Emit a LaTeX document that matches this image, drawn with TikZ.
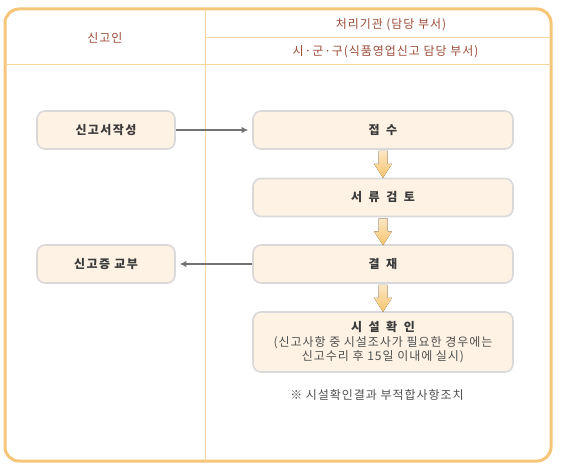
\documentclass[tikz,border=0pt]{standalone}
\usepackage{fontspec}
\setmainfont{Noto Sans CJK KR}
\usetikzlibrary{calc,arrows.meta}
\definecolor{frameor}{HTML}{F6C578}
\definecolor{lineor}{HTML}{F9D69C}
\definecolor{headtxt}{HTML}{9C4A38}
\definecolor{boxfill}{HTML}{FDF2E3}
\definecolor{boxline}{HTML}{D9D9D9}
\definecolor{darktxt}{HTML}{3A3A3A}
\definecolor{graytxt}{HTML}{505050}
\definecolor{grayarrow}{HTML}{737373}
\definecolor{arrowor}{HTML}{F6C46C}
\definecolor{arrowlt}{HTML}{FCE8C6}
\newcommand\regtext{\fontsize{12}{14}\selectfont\addfontfeature{LetterSpace=8}}
\newcommand\boldtext{\fontsize{12}{14}\selectfont\bfseries\addfontfeature{LetterSpace=12}}
\newcommand\wgap{\hspace{6.5pt}}
\tikzset{
  stepbox/.style={draw=boxline, line width=1.6pt, fill=boxfill, rounded corners=8pt,
    minimum height=38pt, inner sep=0pt, font=\boldtext, text=darktxt},
  leftbox/.style={stepbox, minimum width=138pt},
  rightbox/.style={stepbox, minimum width=260pt},
  headtext/.style={font=\regtext, text=headtxt, inner sep=0pt},
  grayarr/.style={draw=grayarrow, line width=1.5pt, -{Latex[length=6.5pt,width=6.5pt]}, shorten >=4pt},
  bigarr/.style={top color=arrowlt, bottom color=arrowor, draw=none},
}
\begin{document}
\begin{tikzpicture}[x=1pt,y=-1pt]
\useasboundingbox (0,0) rectangle (562,470);
% frame
\draw[frameor, line width=3pt, rounded corners=14pt] (5,9) rectangle (551,461);
\draw[lineor, line width=1.3pt] (205.5,9) -- (205.5,461);
\draw[lineor, line width=1.5pt] (5,64.5) -- (551,64.5);
\draw[lineor, line width=1.3pt] (205.5,37.5) -- (551,37.5);
% headers
\node[headtext] (h1) at (105,38) {신고인};
\node[headtext] (h2) at (391,24.5) {처리기관 (담당 부서)};
\node[headtext] (h3) at (385.5,51.5) {시·군·구(식품영업신고 담당 부서)};
% boxes
\node[leftbox] (a1) at (106,130) {신고서작성};
\node[leftbox] (a2) at (106,264) {신고증 교부};
\node[rightbox] (b1) at (383,130) {접\wgap 수};
\node[rightbox] (b2) at (383,197.5) {서\wgap 류\wgap 검\wgap 토};
\node[rightbox] (b3) at (383,264) {결\wgap 재};
\node[rightbox, minimum height=60pt, align=center] (b4) at (383,342)
  {\raisebox{-1.5pt}{시\wgap 설\wgap 확\wgap 인}\\[3pt]{\regtext\mdseries\color{graytxt}(신고사항 중 시설조사가 필요한 경우에는}\\{\regtext\mdseries\color{graytxt}신고수리 후 15일 이내에 실시)}};
\node[font=\regtext, text=graytxt, inner sep=0pt] (note) at (377,395) {※ 시설확인결과 부적합사항조치};
% gray arrows
\draw[grayarr] (a1.east) -- (b1.west);
\draw[grayarr] (b3.west) -- (a2.east);
% orange arrows
\foreach \s in {b1,b2,b3} {
  \fill[bigarr] (\s.south) ++(-4.5,1) -- ++(0,13) -- ++(-4.5,0) -- ++(9,14) -- ++(9,-14) -- ++(-4.5,0) -- ++(0,-13) -- cycle;
}
\end{tikzpicture}
\end{document}
